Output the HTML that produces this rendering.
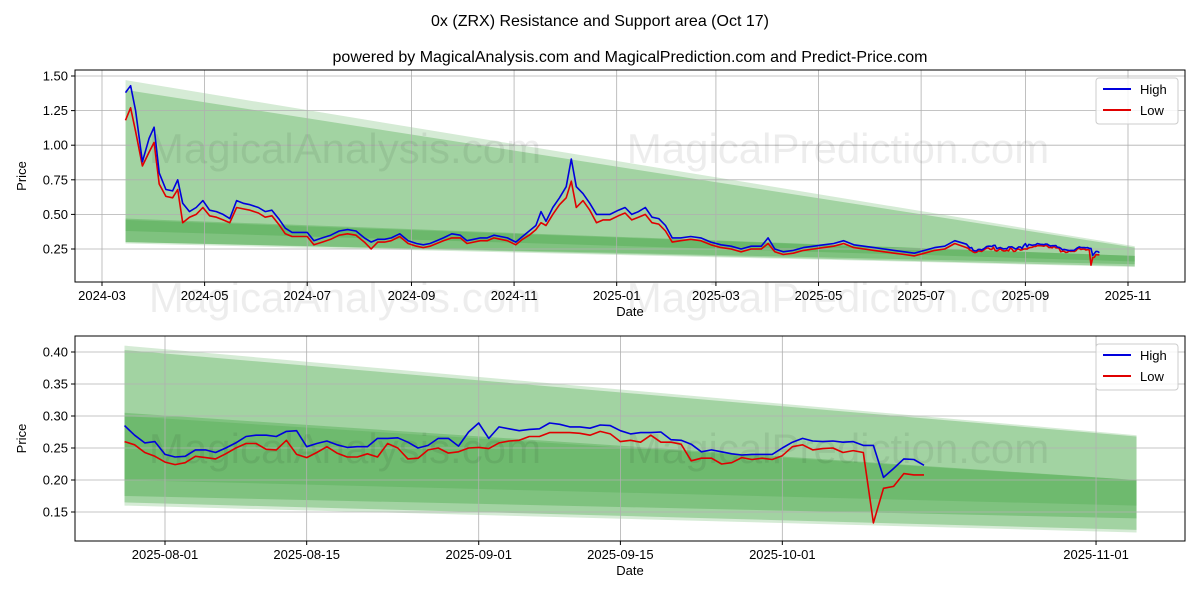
<!DOCTYPE html>
<html><head><meta charset="utf-8"><style>
body{margin:0;background:#fff;font-family:"Liberation Sans","DejaVu Sans",sans-serif}
svg{display:block}
</style></head><body>
<svg id="c" width="1200" height="600" xmlns="http://www.w3.org/2000/svg"></svg>
<script>
const topDates=["2024-03-15","2024-03-18","2024-03-21","2024-03-25","2024-03-29","2024-04-01","2024-04-04","2024-04-08","2024-04-12","2024-04-15","2024-04-18","2024-04-22","2024-04-26","2024-04-30","2024-05-04","2024-05-08","2024-05-12","2024-05-16","2024-05-20","2024-05-24","2024-05-28","2024-06-02","2024-06-06","2024-06-10","2024-06-14","2024-06-18","2024-06-22","2024-06-26","2024-07-01","2024-07-05","2024-07-10","2024-07-15","2024-07-20","2024-07-25","2024-07-30","2024-08-04","2024-08-08","2024-08-12","2024-08-16","2024-08-20","2024-08-25","2024-08-30","2024-09-04","2024-09-08","2024-09-12","2024-09-16","2024-09-20","2024-09-25","2024-09-30","2024-10-04","2024-10-08","2024-10-12","2024-10-16","2024-10-20","2024-10-24","2024-10-28","2024-11-02","2024-11-06","2024-11-10","2024-11-14","2024-11-17","2024-11-20","2024-11-24","2024-11-28","2024-12-02","2024-12-05","2024-12-08","2024-12-12","2024-12-16","2024-12-20","2024-12-24","2024-12-28","2025-01-02","2025-01-06","2025-01-10","2025-01-14","2025-01-18","2025-01-22","2025-01-26","2025-01-30","2025-02-03","2025-02-08","2025-02-14","2025-02-20","2025-02-26","2025-03-04","2025-03-10","2025-03-16","2025-03-22","2025-03-28","2025-04-01","2025-04-05","2025-04-10","2025-04-16","2025-04-22","2025-04-28","2025-05-04","2025-05-10","2025-05-16","2025-05-22","2025-05-28","2025-06-03","2025-06-09","2025-06-15","2025-06-21","2025-06-27","2025-07-03","2025-07-09","2025-07-15","2025-07-21"];
const topHigh=[1.38,1.43,1.25,0.88,1.05,1.13,0.80,0.68,0.67,0.75,0.58,0.52,0.55,0.60,0.53,0.52,0.50,0.47,0.60,0.58,0.57,0.55,0.52,0.53,0.47,0.40,0.37,0.37,0.37,0.31,0.33,0.35,0.38,0.39,0.38,0.33,0.30,0.32,0.32,0.33,0.36,0.31,0.29,0.28,0.29,0.31,0.33,0.36,0.35,0.31,0.32,0.33,0.33,0.35,0.34,0.33,0.30,0.34,0.38,0.42,0.52,0.45,0.55,0.62,0.70,0.90,0.70,0.65,0.58,0.50,0.50,0.50,0.53,0.55,0.50,0.52,0.55,0.48,0.47,0.42,0.33,0.33,0.34,0.33,0.30,0.28,0.27,0.25,0.27,0.27,0.33,0.25,0.23,0.24,0.26,0.27,0.28,0.29,0.31,0.28,0.27,0.26,0.25,0.24,0.23,0.22,0.24,0.26,0.27,0.31];
const topLow=[1.18,1.27,1.10,0.85,0.95,1.02,0.72,0.63,0.62,0.68,0.44,0.48,0.50,0.55,0.49,0.48,0.46,0.44,0.55,0.54,0.53,0.51,0.48,0.49,0.43,0.36,0.34,0.34,0.34,0.28,0.30,0.32,0.35,0.36,0.35,0.30,0.25,0.30,0.30,0.31,0.34,0.29,0.27,0.26,0.27,0.29,0.31,0.33,0.33,0.29,0.30,0.31,0.31,0.33,0.32,0.31,0.28,0.32,0.35,0.39,0.44,0.42,0.50,0.57,0.62,0.74,0.55,0.60,0.53,0.44,0.46,0.46,0.49,0.51,0.46,0.48,0.50,0.44,0.43,0.38,0.30,0.31,0.32,0.31,0.28,0.26,0.25,0.23,0.25,0.25,0.29,0.23,0.21,0.22,0.24,0.25,0.26,0.27,0.29,0.26,0.25,0.24,0.23,0.22,0.21,0.20,0.22,0.24,0.25,0.29];
const recentStart="2025-07-28";
const recentHigh=[0.285,0.27,0.258,0.26,0.24,0.236,0.237,0.247,0.247,0.243,0.25,0.258,0.268,0.27,0.27,0.268,0.276,0.277,0.252,0.257,0.261,0.255,0.251,0.252,0.252,0.265,0.265,0.266,0.259,0.25,0.254,0.265,0.265,0.253,0.275,0.289,0.265,0.283,0.28,0.277,0.279,0.28,0.289,0.287,0.283,0.283,0.281,0.286,0.285,0.277,0.272,0.274,0.274,0.275,0.263,0.262,0.256,0.244,0.247,0.244,0.241,0.239,0.24,0.24,0.24,0.25,0.259,0.265,0.261,0.26,0.261,0.259,0.26,0.254,0.254,0.204,0.218,0.233,0.232,0.223];
const recentLow=[0.26,0.255,0.243,0.237,0.228,0.224,0.227,0.237,0.235,0.233,0.241,0.25,0.257,0.257,0.248,0.247,0.262,0.24,0.235,0.243,0.252,0.242,0.236,0.236,0.241,0.236,0.257,0.25,0.233,0.234,0.247,0.25,0.242,0.244,0.25,0.251,0.249,0.258,0.261,0.262,0.268,0.268,0.274,0.274,0.274,0.273,0.27,0.276,0.272,0.26,0.262,0.259,0.27,0.259,0.259,0.256,0.23,0.234,0.234,0.225,0.227,0.235,0.232,0.234,0.232,0.238,0.252,0.255,0.247,0.249,0.25,0.243,0.246,0.243,0.133,0.187,0.19,0.21,0.208,0.208];
// bands: [startTop,endTop,startBottom,endBottom,opacity]
const topBands=[[1.47,0.27,0.29,0.12,0.2],[1.40,0.26,0.30,0.125,0.3],[0.47,0.20,0.30,0.14,0.3],[0.46,0.20,0.38,0.16,0.25]];
const botBands=[[0.41,0.27,0.16,0.118,0.2],[0.403,0.268,0.165,0.122,0.3],[0.305,0.20,0.175,0.14,0.3],[0.30,0.20,0.20,0.16,0.2]];
const topYTicks=[0.25,0.50,0.75,1.00,1.25,1.50];
const topXTicks=["2024-03","2024-05","2024-07","2024-09","2024-11","2025-01","2025-03","2025-05","2025-07","2025-09","2025-11"];
const botYTicks=[0.15,0.20,0.25,0.30,0.35,0.40];
const botXTicks=["2025-08-01","2025-08-15","2025-09-01","2025-09-15","2025-10-01","2025-11-01"];

const svg=document.getElementById('c');
const NS="http://www.w3.org/2000/svg";
function mk(t,a,txt){const e=document.createElementNS(NS,t);for(const k in a)e.setAttribute(k,a[k]);if(txt!==undefined)e.textContent=txt;svg.appendChild(e);return e;}
const DAY=86400000;
function dt(s){const p=s.split('-').map(Number);return Date.UTC(p[0],p[1]-1,p[2]||1);}
const recentDates=recentHigh.map((_,i)=>dt(recentStart)+i*DAY);

function panel(o){
  const X=d=>o.x0+(d-dt(o.d0))/DAY*o.kx;
  const Y=v=>o.y0-(v-o.v0)*o.ky;
  const bs=dt(o.bandStart),be=dt(o.bandEnd);
  o.bands.forEach((b,i)=>{
    const p=mk('polygon',{points:`${X(bs)},${Y(b[0])} ${X(be)},${Y(b[1])} ${X(be)},${Y(b[3])} ${X(bs)},${Y(b[2])}`,fill:'#2e9a2e','fill-opacity':b[4]});
    
    
  });
  o.yt.forEach(v=>{
    const l=mk('line',{x1:o.L,x2:o.R,y1:Y(v),y2:Y(v),stroke:'#b0b0b0','stroke-width':0.8});
    
    mk('line',{x1:o.L-4,x2:o.L,y1:Y(v),y2:Y(v),stroke:'#000'});
    const t=mk('text',{x:o.L-7,y:Y(v)+4.5,'text-anchor':'end','font-size':13},v.toFixed(2));
    
  });
  o.xt.forEach(s=>{
    const x=X(dt(s));
    const l=mk('line',{x1:x,x2:x,y1:o.T,y2:o.B,stroke:'#b0b0b0','stroke-width':0.8});
    
    mk('line',{x1:x,x2:x,y1:o.B,y2:o.B+4,stroke:'#000'});
    const t=mk('text',{x:x,y:o.B+18,'text-anchor':'middle','font-size':13},s);
    
  });
  [["MagicalAnalysis.com",o.wm1],["MagicalPrediction.com",o.wm2]].forEach(w=>{w[1].forEach(p=>{
    const t=mk('text',{x:p[0],y:p[1],'font-size':42,fill:'#000','fill-opacity':0.07,'text-anchor':'middle'},w[0]);
    });});
  function line(ds,vs,col,name){
    const pts=ds.map((d,i)=>X(d).toFixed(1)+','+Y(vs[i]).toFixed(1)).join(' ');
    const p=mk('polyline',{points:pts,fill:'none',stroke:col,'stroke-width':1.6,'stroke-linejoin':'round'});
    
  }
  line(o.dates,o.low,'#e00000','low-line');
  line(o.dates,o.high,'#0000dd','high-line');
  const f=mk('rect',{x:o.L,y:o.T,width:o.R-o.L,height:o.B-o.T,fill:'none',stroke:'#000','stroke-width':1});
  
  const xl=mk('text',{x:(o.L+o.R)/2,y:o.B+34,'text-anchor':'middle','font-size':13},'Date');
  
  const yc=(o.T+o.B)/2;
  const yl=mk('text',{x:26,y:yc,'text-anchor':'middle','font-size':13,transform:`rotate(-90 26 ${yc})`},'Price');
  
  const lg=mk('rect',{x:1096,y:o.T+8,width:82,height:46,rx:3,fill:'#fff','fill-opacity':0.85,stroke:'#ccc'});
  
  [['High','#0000dd',o.T+19],['Low','#e00000',o.T+40]].forEach(e=>{
    mk('line',{x1:1103,x2:1131,y1:e[2],y2:e[2],stroke:e[1],'stroke-width':2});
    const t=mk('text',{x:1140,y:e[2]+5,'font-size':13},e[0]);
    
  });
}
const allDates=topDates.map(dt).concat(recentDates);
panel({L:75,R:1185,T:70,B:282,x0:102,d0:"2024-03-01",kx:1026/610,y0:249,v0:0.25,ky:138.4,
  bandStart:"2024-03-15",bandEnd:"2025-11-05",bands:topBands,yt:topYTicks,xt:topXTicks,
  dates:allDates,high:topHigh.concat(recentHigh),low:topLow.concat(recentLow),
  wm1:[[345,163],[345,312]],wm2:[[838,163],[838,312]]});
panel({L:75,R:1185,T:336,B:541,x0:165,d0:"2025-08-01",kx:10.12,y0:512,v0:0.15,ky:640,
  bandStart:"2025-07-28",bandEnd:"2025-11-05",bands:botBands,yt:botYTicks,xt:botXTicks,
  dates:recentDates,high:recentHigh,low:recentLow,wm1:[[345,463]],wm2:[[838,463]]});
const t1=mk('text',{x:600,y:26,'text-anchor':'middle','font-size':16},'0x (ZRX) Resistance and Support area (Oct 17)');

const t2=mk('text',{x:630,y:62,'text-anchor':'middle','font-size':16},'powered by MagicalAnalysis.com and MagicalPrediction.com and Predict-Price.com');

</script>
</body></html>
